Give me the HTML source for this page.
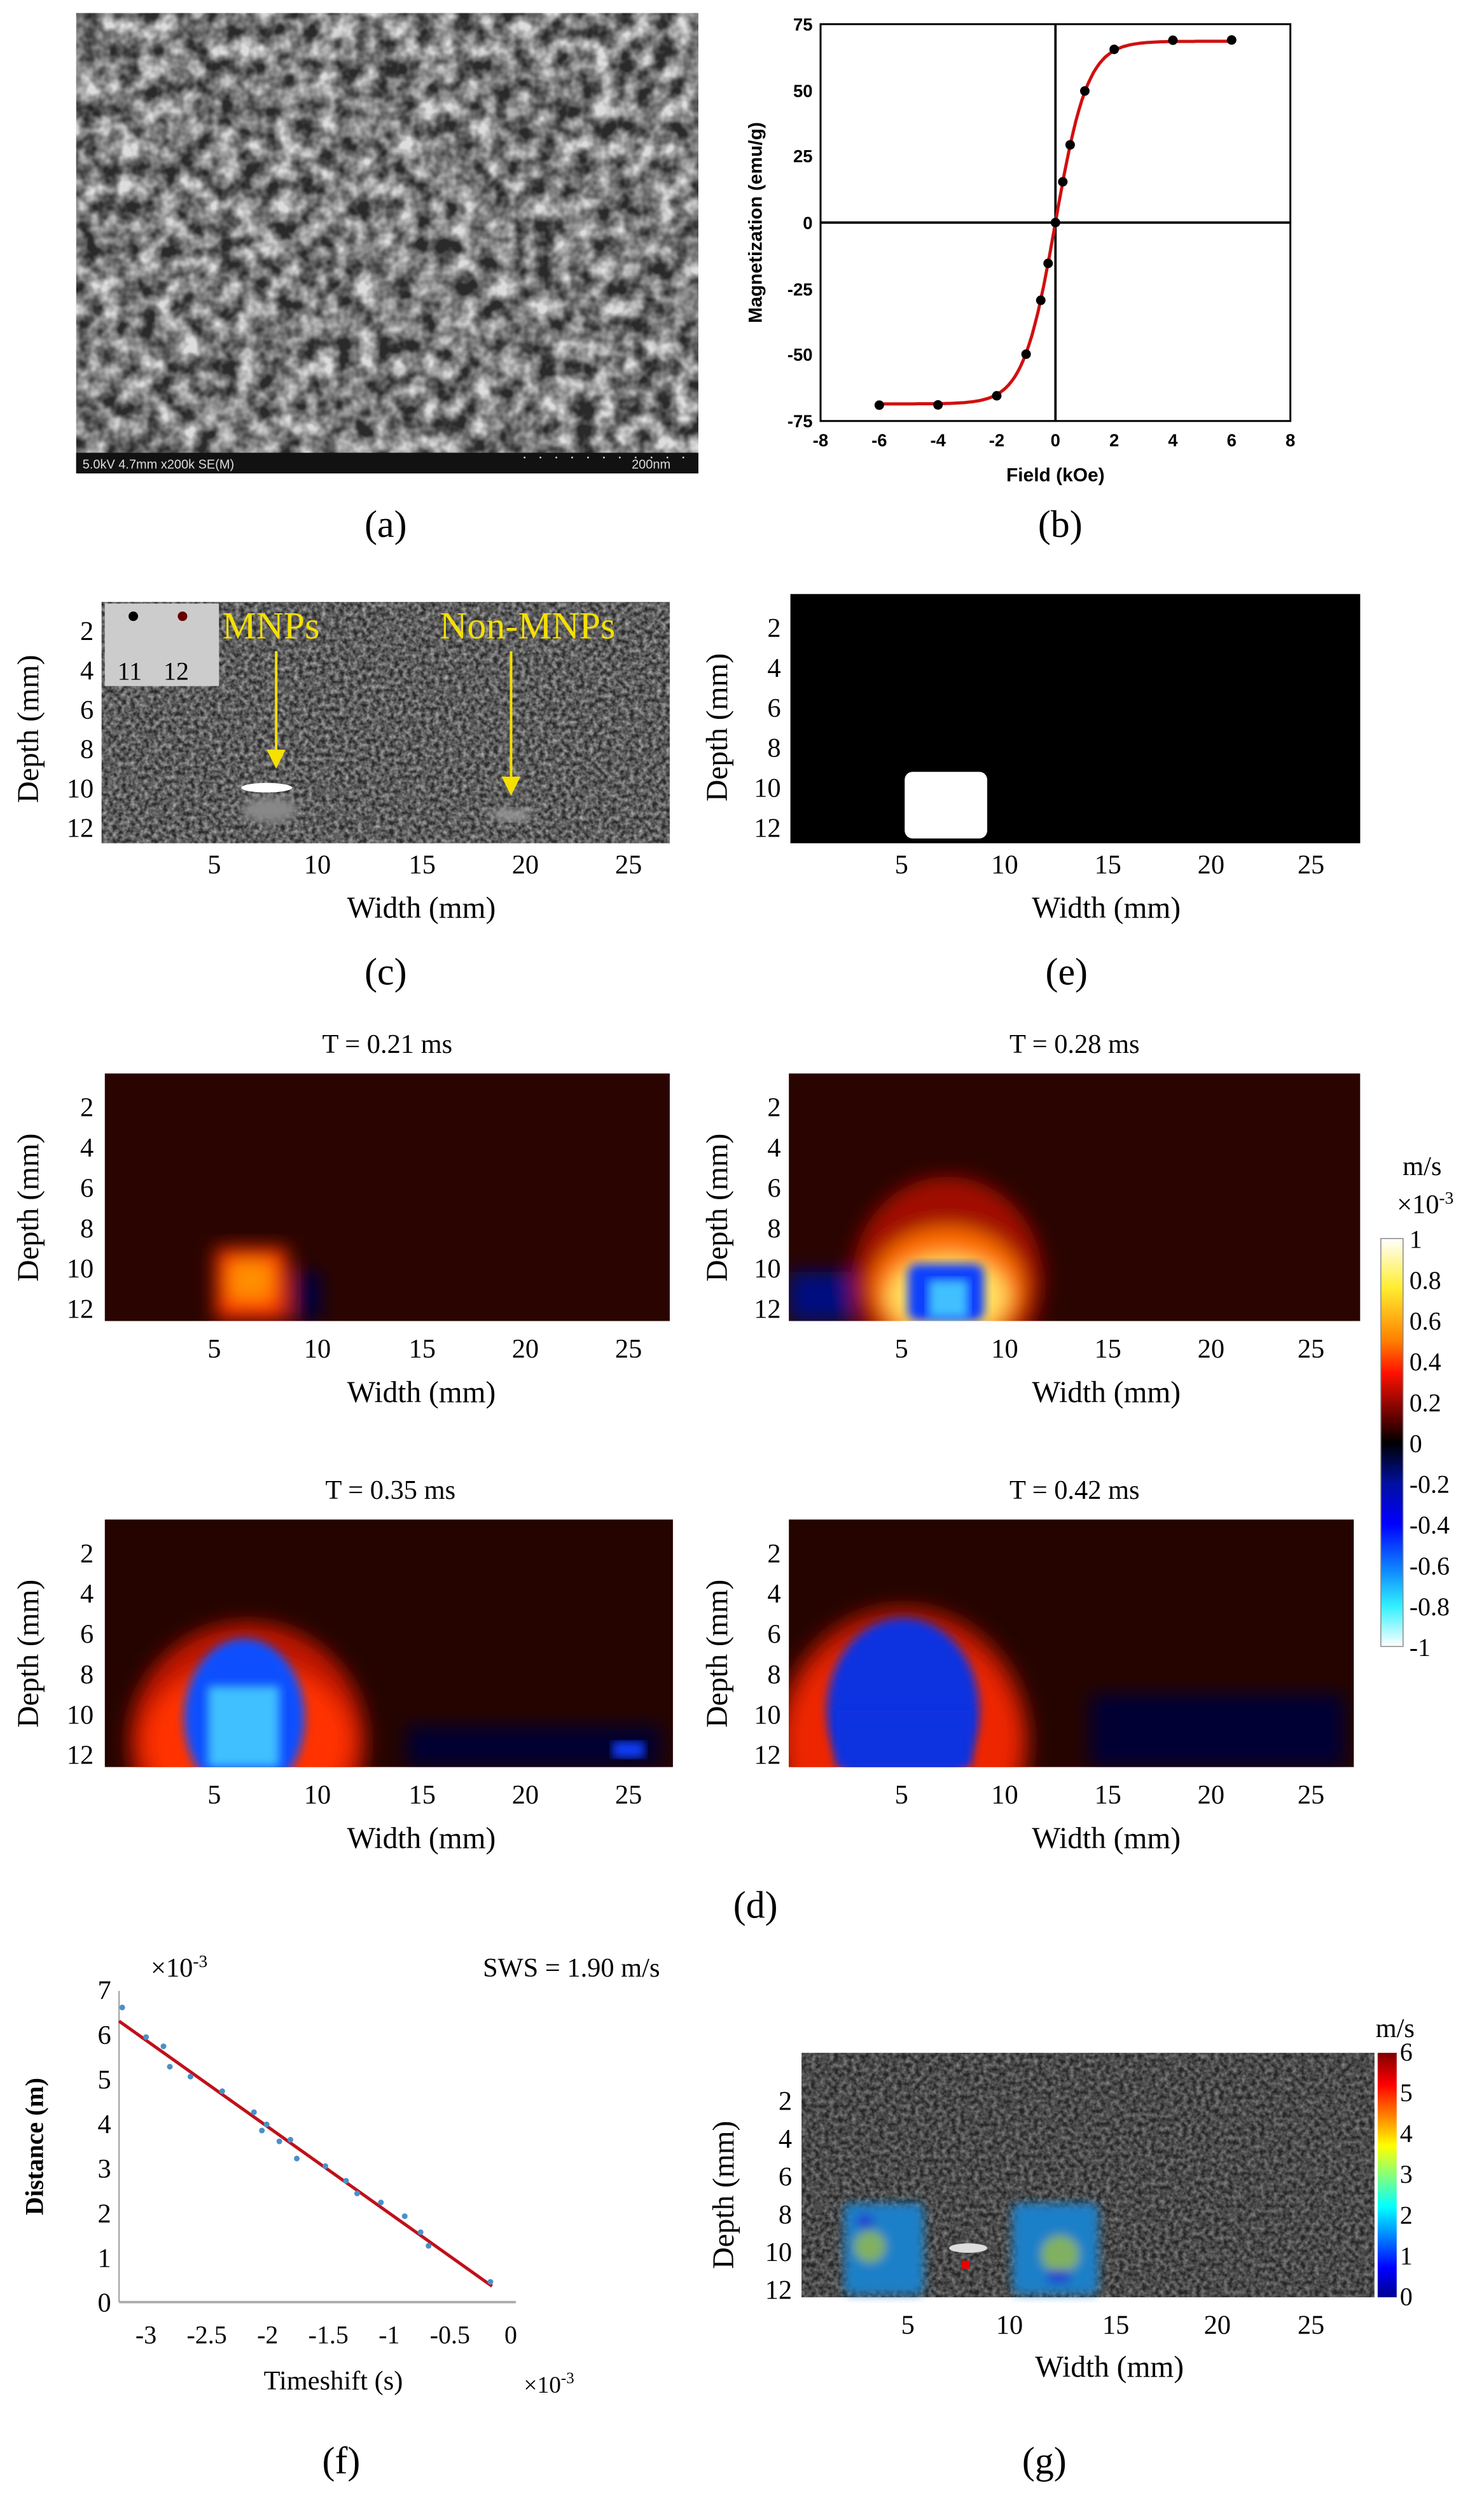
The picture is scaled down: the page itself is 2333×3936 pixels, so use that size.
<!DOCTYPE html>
<html><head><meta charset="utf-8"><style>
html,body{margin:0;padding:0;background:#fff}
svg{display:block}
text{font-family:"Liberation Serif",serif;fill:#000}
.s{font-size:17px}
.l{font-size:24px}
.b{font-family:"Liberation Sans",sans-serif;font-size:11px;font-weight:bold}
</style></head><body>
<svg width="2333" height="3936" viewBox="0 0 935 1577" xmlns="http://www.w3.org/2000/svg">
<defs>
<filter id="bl" x="-20%" y="-20%" width="140%" height="140%"><feGaussianBlur stdDeviation="6"/></filter>
<filter id="bl2"><feGaussianBlur stdDeviation="3"/></filter>
<filter id="noise" x="0" y="0" width="100%" height="100%"><feTurbulence type="fractalNoise" baseFrequency="0.35" numOctaves="2" seed="3"/><feColorMatrix type="matrix" values="0 0 0 0 0.5  0 0 0 0 0.5  0 0 0 0 0.5  0 0 0 1.4 -0.35"/></filter>
<filter id="sem" x="0" y="0" width="100%" height="100%"><feTurbulence type="fractalNoise" baseFrequency="0.08" numOctaves="3" seed="7"/><feColorMatrix type="matrix" values="0 0 0 0 0.72  0 0 0 0 0.72  0 0 0 0 0.72  0 0 0 1.9 -0.5"/></filter>
<linearGradient id="cb1" x1="0" y1="0" x2="0" y2="1">
<stop offset="0" stop-color="#ffffff"/><stop offset="0.12" stop-color="#ffee30"/><stop offset="0.25" stop-color="#ff8000"/><stop offset="0.33" stop-color="#ff1000"/><stop offset="0.45" stop-color="#500000"/><stop offset="0.5" stop-color="#000"/><stop offset="0.6" stop-color="#0010a0"/><stop offset="0.7" stop-color="#0000ff"/><stop offset="0.82" stop-color="#1090ff"/><stop offset="0.9" stop-color="#30f0ff"/><stop offset="1" stop-color="#ffffff"/></linearGradient>
<linearGradient id="jet" x1="0" y1="1" x2="0" y2="0">
<stop offset="0" stop-color="#00008f"/><stop offset="0.12" stop-color="#0000ff"/><stop offset="0.37" stop-color="#00ffff"/><stop offset="0.62" stop-color="#ffff00"/><stop offset="0.87" stop-color="#ff0000"/><stop offset="1" stop-color="#800000"/></linearGradient>
</defs>

<!-- (a) SEM -->
<rect x="48" y="8" width="392" height="290" fill="#2a2a2a"/>
<rect x="48" y="8" width="392" height="277" filter="url(#sem)"/>
<rect x="48" y="285" width="392" height="13" fill="#111"/>
<text x="52" y="295" style="font-family:'Liberation Sans',sans-serif;font-size:8px;fill:#ddd">5.0kV 4.7mm x200k SE(M)</text>
<text x="398" y="295" style="font-family:'Liberation Sans',sans-serif;font-size:8px;fill:#ddd">200nm</text>
<line x1="330" y1="288" x2="435" y2="288" stroke="#ddd" stroke-width="1" stroke-dasharray="1 9"/>
<text x="243" y="338" class="l" text-anchor="middle">(a)</text>

<!-- (b) -->
<rect x="517" y="15" width="296" height="250" fill="none" stroke="#000" stroke-width="1.2"/>
<line x1="665" y1="15" x2="665" y2="265" stroke="#000" stroke-width="1.5"/>
<line x1="517" y1="140" x2="813" y2="140" stroke="#000" stroke-width="1.5"/>
<g text-anchor="middle">
<text x="517" y="281" class="b">-8</text><text x="554" y="281" class="b">-6</text><text x="591" y="281" class="b">-4</text><text x="628" y="281" class="b">-2</text><text x="665" y="281" class="b">0</text><text x="702" y="281" class="b">2</text><text x="739" y="281" class="b">4</text><text x="776" y="281" class="b">6</text><text x="813" y="281" class="b">8</text>
</g>
<g text-anchor="end">
<text x="512" y="19" class="b">75</text><text x="512" y="61" class="b">50</text><text x="512" y="102" class="b">25</text><text x="512" y="144" class="b">0</text><text x="512" y="186" class="b">-25</text><text x="512" y="227" class="b">-50</text><text x="512" y="269" class="b">-75</text>
</g>
<text x="665" y="303" class="b" text-anchor="middle" style="font-size:12px">Field (kOe)</text>
<text transform="translate(480,140) rotate(-90)" class="b" text-anchor="middle" style="font-size:12px">Magnetization (emu/g)</text>
<path id="curve" d="" fill="none" stroke="#d01010" stroke-width="2"/>
<g id="pts" fill="#000"></g>
<text x="668" y="338" class="l" text-anchor="middle">(b)</text>

<!-- (c) -->
<rect x="64" y="379" width="358" height="152" fill="#2a2a2a"/>
<rect x="64" y="379" width="358" height="152" filter="url(#noise)"/>
<rect x="66" y="380" width="72" height="52" fill="#ccc"/>
<circle cx="84" cy="388" r="3" fill="#000"/><circle cx="115" cy="388" r="3" fill="#600"/>
<text x="74" y="428" style="font-size:16px">11</text><text x="103" y="428" style="font-size:16px">12</text>
<ellipse cx="168" cy="496" rx="16" ry="3" fill="#fff"/>
<ellipse cx="170" cy="510" rx="18" ry="8" fill="#888" filter="url(#bl2)"/>
<ellipse cx="322" cy="513" rx="14" ry="4" fill="#999" filter="url(#bl2)"/>
<text x="140" y="402" style="font-size:24px;fill:#f5e000">MNPs</text>
<text x="277" y="402" style="font-size:24px;fill:#f5e000">Non-MNPs</text>
<line x1="174" y1="410" x2="174" y2="475" stroke="#f5e000" stroke-width="1.6"/><path d="M168,472 L180,472 L174,484Z" fill="#f5e000"/>
<line x1="322" y1="410" x2="322" y2="492" stroke="#f5e000" stroke-width="1.6"/><path d="M316,489 L328,489 L322,501Z" fill="#f5e000"/>
<g id="ax-c"></g>
<text x="243" y="620" class="l" text-anchor="middle">(c)</text>

<!-- (e) -->
<rect x="498" y="374" width="359" height="157" fill="#000"/>
<rect x="570" y="486" width="52" height="42" rx="5" fill="#fff"/>
<g id="ax-e"></g>
<text x="672" y="620" class="l" text-anchor="middle">(e)</text>

<!-- (d) panels -->
<text x="244" y="663" class="s" text-anchor="middle">T = 0.21 ms</text>
<text x="677" y="663" class="s" text-anchor="middle">T = 0.28 ms</text>
<text x="246" y="944" class="s" text-anchor="middle">T = 0.35 ms</text>
<text x="677" y="944" class="s" text-anchor="middle">T = 0.42 ms</text>

<svg x="66" y="676" width="356" height="156" overflow="hidden">
<rect width="356" height="156" fill="#2a0400"/>
<g filter="url(#bl)"><rect x="70" y="110" width="45" height="45" fill="#ff3000"/><rect x="78" y="118" width="28" height="25" fill="#ff9000"/><rect x="118" y="125" width="18" height="30" fill="#000040"/></g>
</svg>
<svg x="497" y="676" width="360" height="156" overflow="hidden">
<rect width="360" height="156" fill="#2a0400"/>
<g filter="url(#bl)"><ellipse cx="100" cy="130" rx="60" ry="65" fill="#a01000"/><ellipse cx="100" cy="135" rx="48" ry="38" fill="#ff7000"/><ellipse cx="100" cy="140" rx="38" ry="25" fill="#ffe060"/><rect x="0" y="125" width="40" height="31" fill="#001080"/></g>
<rect x="75" y="120" width="48" height="36" rx="6" fill="#1040ff" filter="url(#bl2)"/>
<rect x="88" y="130" width="25" height="24" fill="#40c0ff" filter="url(#bl2)"/>
</svg>
<svg x="66" y="957" width="358" height="156" overflow="hidden">
<rect width="358" height="156" fill="#250400"/>
<g filter="url(#bl)"><ellipse cx="90" cy="140" rx="75" ry="75" fill="#c01800"/><ellipse cx="90" cy="140" rx="65" ry="50" fill="#ff3000"/><rect x="190" y="130" width="160" height="26" fill="#000030"/></g>
<ellipse cx="88" cy="125" rx="38" ry="50" fill="#1050ff" filter="url(#bl2)"/>
<rect x="65" y="105" width="45" height="51" fill="#40c0ff" filter="url(#bl2)"/>
<rect x="320" y="140" width="20" height="10" fill="#1040ff" filter="url(#bl2)"/>
</svg>
<svg x="497" y="957" width="356" height="156" overflow="hidden">
<rect width="356" height="156" fill="#250400"/>
<g filter="url(#bl)"><ellipse cx="72" cy="140" rx="80" ry="85" fill="#b01600"/><ellipse cx="72" cy="140" rx="72" ry="70" fill="#ee2800"/><rect x="190" y="110" width="160" height="46" fill="#000035"/></g>
<ellipse cx="72" cy="120" rx="48" ry="58" fill="#0a30e0" filter="url(#bl2)"/>
<rect x="30" y="120" width="85" height="36" fill="#0a30e0" filter="url(#bl2)"/>
</svg>
<g id="ax-d"></g>

<!-- colorbar d -->
<rect x="870" y="780" width="14" height="257" fill="url(#cb1)" stroke="#888" stroke-width="0.6"/>
<text x="896" y="740" class="s" text-anchor="middle">m/s</text>
<text x="898" y="764" class="s" text-anchor="middle">×10<tspan dy="-6" style="font-size:11px">-3</tspan></text>
<g id="cbd" style="font-size:15px"></g>
<text x="476" y="1208" class="l" text-anchor="middle">(d)</text>

<!-- (f) -->
<line x1="75" y1="1254" x2="75" y2="1450" stroke="#aaa"/>
<line x1="75" y1="1450" x2="325" y2="1450" stroke="#aaa" stroke-width="1.5"/>
<line x1="75" y1="1273" x2="310" y2="1440" stroke="#c0101a" stroke-width="2"/>
<g id="axf"></g>
<text x="95" y="1245" class="s">×10<tspan dy="-6" style="font-size:11px">-3</tspan></text>
<text x="360" y="1245" class="s" text-anchor="middle">SWS = 1.90 m/s</text>
<text transform="translate(27,1352) rotate(-90)" class="s" text-anchor="middle" style="font-weight:bold;font-size:16px">Distance (m)</text>
<text x="210" y="1505" class="s" text-anchor="middle">Timeshift (s)</text>
<text x="330" y="1507" style="font-size:15px">×10<tspan dy="-6" style="font-size:10px">-3</tspan></text>
<text x="215" y="1558" class="l" text-anchor="middle">(f)</text>

<!-- (g) -->
<rect x="505" y="1293" width="361" height="154" fill="#262626"/>
<rect x="505" y="1293" width="361" height="154" filter="url(#noise)" opacity="0.7"/>
<g filter="url(#bl2)">
<rect x="532" y="1388" width="50" height="57" rx="4" fill="#1f80c8"/>
<rect x="638" y="1388" width="54" height="57" rx="4" fill="#1f80c8"/>
<ellipse cx="548" cy="1415" rx="10" ry="10" fill="#80b060"/>
<ellipse cx="668" cy="1420" rx="12" ry="12" fill="#80b060"/>
<rect x="540" y="1395" width="10" height="8" fill="#2040d0"/>
<rect x="660" y="1430" width="14" height="8" fill="#2040d0"/>
</g>
<ellipse cx="610" cy="1416" rx="12" ry="3" fill="#ddd"/>
<rect x="606" y="1424" width="5" height="5" fill="#e00"/>
<rect x="868" y="1293" width="12" height="154" fill="url(#jet)"/>
<text x="879" y="1283" class="s" text-anchor="middle">m/s</text>
<g id="axg"></g>
<text x="658" y="1558" class="l" text-anchor="middle">(g)</text>
</svg>
<script>
var NS="http://www.w3.org/2000/svg";
function T(p,x,y,s,a,st){var t=document.createElementNS(NS,"text");t.setAttribute("x",x);t.setAttribute("y",y);if(a)t.setAttribute("text-anchor",a);t.setAttribute("style",st||"font-size:17px");t.textContent=s;p.appendChild(t);return t;}
function R(p,x,y,s){var t=T(p,x,y,s,"middle","font-size:19px");t.setAttribute("transform","rotate(-90 "+x+" "+y+")");}
var d="",pts=document.getElementById("pts");
for(var H=-6;H<=6.001;H+=0.1){var M=68.5*Math.tanh(H/1.1);d+=(d?"L":"M")+(665+18.5*H).toFixed(1)+","+(140-1.667*M).toFixed(1);}
document.getElementById("curve").setAttribute("d",d);
[-6,-4,-2,-1,-0.5,-0.25,0,0.25,0.5,1,2,4,6].forEach(function(H){var M=69*Math.tanh(H/1.1);var c=document.createElementNS(NS,"circle");c.setAttribute("cx",665+18.5*H);c.setAttribute("cy",140-1.667*M);c.setAttribute("r",3);pts.appendChild(c);});
function imgAx(g,xl,yt,yb,xs,xlab,wy,ylabx){
 var p=document.getElementById(g)||g;
 [2,4,6,8,10,12].forEach(function(v,i){T(p,xl,yt+(yb-yt)*i/5+6,v,"end");});
 xs.forEach(function(x,i){T(p,x,xlab,5*(i+1),"middle");});
 T(p,(xs[0]+xs[4])/2,wy,"Width (mm)","middle","font-size:19px");
 R(p,ylabx,(yt+yb)/2,"Depth (mm)");
}
imgAx("ax-c",59,397,521,[135,200,266,331,396],550,578,24);
imgAx("ax-e",492,395,521,[568,633,698,763,826],550,578,458);
var ad=document.getElementById("ax-d");
imgAx(ad,59,697,824,[135,200,266,331,396],855,883,24);
imgAx(ad,492,697,824,[568,633,698,763,826],855,883,458);
imgAx(ad,59,978,1105,[135,200,266,331,396],1136,1164,24);
imgAx(ad,492,978,1105,[568,633,698,763,826],1136,1164,458);
var cb=document.getElementById("cbd");
["1","0.8","0.6","0.4","0.2","0","-0.2","-0.4","-0.6","-0.8","-1"].forEach(function(s,i){T(cb,888,786+i*25.7,s,"start","font-size:16px");});
var af=document.getElementById("axf");
for(var i=0;i<=7;i++)T(af,70,1456-i*28.1,i,"end");
["-3","-2.5","-2","-1.5","-1","-0.5","0"].forEach(function(s,i){T(af,92+i*38.3,1476,s,"middle","font-size:16px");});
var offs=[[77,-10],[92,-2],[103,-4],[107,6],[120,3],[140,-2],[160,-3],[165,5],[176,4],[183,-2],[187,7],[205,-1],[218,-1],[240,-3],[255,-5],[265,-2],[270,3],[309,-2],[225,2],[168,-1]];
offs.forEach(function(q){var c=document.createElementNS(NS,"circle");c.setAttribute("cx",q[0]);c.setAttribute("cy",1273+(q[0]-75)*0.7106+q[1]);c.setAttribute("r",1.8);c.setAttribute("fill","#4a90c8");af.appendChild(c);});
var ag=document.getElementById("axg");
imgAx(ag,499,1323,1442,[572,636,703,767,826],1470,1497,462);
for(var k=0;k<=6;k++)T(ag,882,1452-k*25.7,k,"start","font-size:16px");
</script>
</body></html>
